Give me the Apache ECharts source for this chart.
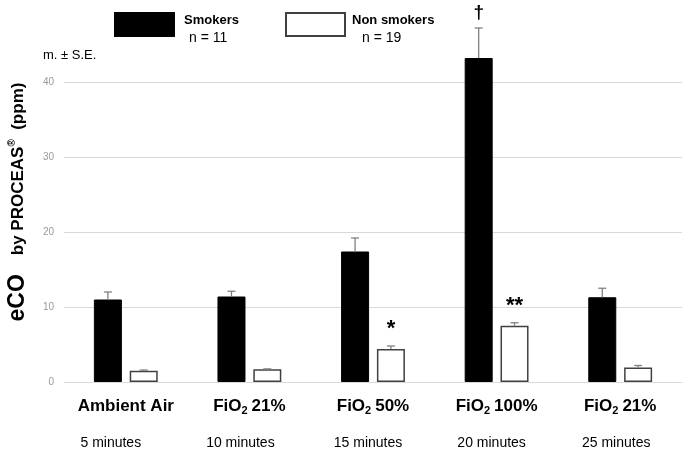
<!DOCTYPE html>
<html>
<head>
<meta charset="utf-8">
<script src="https://cdn.jsdelivr.net/npm/echarts@6/dist/echarts.min.js"></script>
<style>
  html, body { margin: 0; padding: 0; background: #fff; }
  #chart { width: 685px; height: 453px; }
</style>
</head>
<body>
<div id="chart"></div>
<script>
// data
const categories = ['Ambient Air', 'FiO2 21%', 'FiO2 50%', 'FiO2 100%', 'FiO2 21%']
const timeLabels = ['5 minutes', '10 minutes', '15 minutes', '20 minutes', '25 minutes']
const smokersMean = [11.0, 11.4, 17.4, 43.2, 11.3]
const smokersSE = [1.0, 0.7, 1.8, 4.0, 1.2]
const nonSmokersMean = [1.5, 1.7, 4.4, 7.5, 1.95]
const nonSmokersSE = [0.1, 0.05, 0.4, 0.4, 0.25]
const smokersMarks = ['', '', '', '†', '']
const nonSmokersMarks = ['', '', '*', '**', '']
const yTicks = [0, 10, 20, 30, 40]

const FONT = 'Liberation Sans, Arial, sans-serif'
const BAR_W = 28
const GAP = 0.28
// time labels sit a bit left of the category centre in the original
const timeShift = [15, 9, 5, 5, 4]

const chart = echarts.init(document.getElementById('chart'))

// bar data with significance marks as labels
const barData = (values, marks, dist) => values.map((v, i) => {
    if (!marks[i]) return v
    return {
        value: v,
        label: {
            show: true,
            position: 'top',
            distance: dist,
            formatter: marks[i],
            color: '#000',
            fontFamily: FONT,
            fontWeight: 'bold',
            fontSize: marks[i] === '†' ? 19 : 22
        }
    }
})

// error bar (upper half only, like the figure)
const errorSeries = (means, ses, side) => ({
    type: 'custom',
    z: 5,
    silent: true,
    data: means.map((m, i) => [i, m, ses[i]]),
    encode: { x: 0, y: 1 },
    renderItem: (params, api) => {
        const i = api.value(0)
        const m = api.value(1)
        const se = api.value(2)
        const base = api.coord([i, m])
        const top = api.coord([i, m + se])
        const x = base[0] + side * (BAR_W + BAR_W * GAP) / 2
        const st = { stroke: '#808080', lineWidth: 1.3 }
        return {
            type: 'group',
            children: [
                { type: 'line', shape: { x1: x, y1: base[1], x2: x, y2: top[1] }, style: st },
                { type: 'line', shape: { x1: x - 4, y1: top[1], x2: x + 4, y2: top[1] }, style: st }
            ]
        }
    }
})

const catRich = {
    b: { fontFamily: FONT, fontWeight: 'bold', fontSize: 17, color: '#000', lineHeight: 20 },
    sub: { fontFamily: FONT, fontWeight: 'bold', fontSize: 11, color: '#000', lineHeight: 20, verticalAlign: 'bottom', padding: [0, 4, 0, 0] }
}
timeShift.forEach((s, i) => {
    catRich['m' + i] = { fontFamily: FONT, fontSize: 14, color: '#000', lineHeight: 54, padding: [0, s * 2, 0, 0] }
})

// legend text: a thin blank line on top pushes the label down against the box
const legendRich = (padT, padN) => ({
    e: { fontSize: 1, lineHeight: 9 },
    t: { fontFamily: FONT, fontWeight: 'bold', fontSize: 13, color: '#000', lineHeight: 18, padding: [0, 0, 0, padT] },
    n: { fontFamily: FONT, fontSize: 14, color: '#000', lineHeight: 18, padding: [0, 0, 0, padN] }
})

const options = {
    animation: false,
    backgroundColor: '#fff',
    grid: { left: 64, right: 3, top: 7, bottom: 71 },
    legend: [
        {
            data: ['Smokers'],
            icon: 'rect',
            left: 114, top: 6, padding: 0,
            itemWidth: 59, itemHeight: 23,
            formatter: () => '{e| }\n{t|Smokers}\n{n|n = 11}',
            textStyle: { rich: legendRich(5, 10) }
        },
        {
            data: ['Non smokers'],
            icon: 'rect',
            left: 285, top: 6, padding: 0,
            itemWidth: 59, itemHeight: 23,
            formatter: () => '{e| }\n{t|Non smokers}\n{n|n = 19}',
            textStyle: { rich: legendRich(2, 12) }
        }
    ],
    xAxis: {
        type: 'category',
        data: categories,
        axisLine: { lineStyle: { color: '#d9d9d9' } },
        axisTick: { show: false },
        axisLabel: {
            margin: 14,
            interval: 0,
            formatter: (v, i) => {
                let head = '{b|' + v + '}'
                if (v.indexOf('FiO2') === 0) {
                    head = '{b|FiO}{sub|2}{b|' + v.slice(5) + '}'
                }
                return head + '\n{m' + i + '|' + timeLabels[i] + '}'
            },
            rich: catRich
        }
    },
    yAxis: {
        type: 'value',
        min: 0, max: 50, interval: 10,
        axisLine: { show: false },
        axisTick: { show: false },
        axisLabel: {
            margin: 10,
            color: '#999',
            fontFamily: FONT,
            fontSize: 10,
            showMaxLabel: false,
            formatter: v => yTicks.indexOf(v) >= 0 ? String(v) : ''
        },
        splitLine: {
            lineStyle: { color: ['#d9d9d9', '#d9d9d9', '#d9d9d9', '#d9d9d9', '#d9d9d9', 'rgba(0,0,0,0)'] }
        }
    },
    series: [
        {
            name: 'Smokers',
            type: 'bar',
            barWidth: BAR_W,
            barGap: (GAP * 100) + '%',
            data: barData(smokersMean, smokersMarks, 36),
            itemStyle: { color: '#000', borderColor: '#000', borderWidth: 1 }
        },
        {
            name: 'Non smokers',
            type: 'bar',
            barWidth: BAR_W,
            barGap: (GAP * 100) + '%',
            data: barData(nonSmokersMean, nonSmokersMarks, 9),
            itemStyle: { color: '#fff', borderColor: '#404040', borderWidth: 1.5 }
        },
        errorSeries(smokersMean, smokersSE, -1),
        errorSeries(nonSmokersMean, nonSmokersSE, 1)
    ],
    graphic: [
        {
            type: 'text',
            left: 43, top: 49,
            style: { text: 'm. \u00b1 S.E.', fontFamily: FONT, fontSize: 13, fill: '#000' }
        },
        {
            type: 'text',
            x: 18, y: 202,
            rotation: Math.PI / 2,
            style: {
                text: '{big|eCO}{sm|    by PROCEAS}{sup|\u00ae}{sm|  (ppm)}',
                align: 'center',
                verticalAlign: 'middle',
                rich: {
                    big: { fontFamily: FONT, fontWeight: 'bold', fontSize: 23, fill: '#000', lineHeight: 26 },
                    sm: { fontFamily: FONT, fontWeight: 'bold', fontSize: 17, fill: '#000', lineHeight: 26 },
                    sup: { fontFamily: FONT, fontWeight: 'bold', fontSize: 10, fill: '#000', lineHeight: 26, verticalAlign: 'top', padding: [2, 0, 0, 0] }
                }
            }
        }
    ]
}

chart.setOption(options)
</script>
</body>
</html>
